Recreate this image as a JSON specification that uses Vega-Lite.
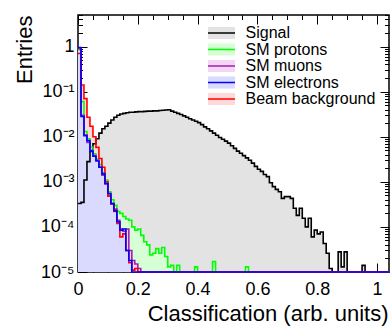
{
  "$schema": "https://vega.github.io/schema/vega-lite/v6.json",
  "width": 311,
  "height": 257,
  "autosize": {"type": "none"},
  "padding": {"left": 78, "top": 15, "right": 1, "bottom": 56},
  "background": "white",
  "data": {"values": [
    {"s":"Signal","x":0.00,"v":3.3e-4},{"s":"Signal","x":0.01,"v":3.5e-4},{"s":"Signal","x":0.02,"v":1.1e-3},{"s":"Signal","x":0.03,"v":2.8e-3},{"s":"Signal","x":0.04,"v":4.7e-3},{"s":"Signal","x":0.05,"v":7.0e-3},{"s":"Signal","x":0.06,"v":9.0e-3},{"s":"Signal","x":0.07,"v":1.2e-2},{"s":"Signal","x":0.08,"v":1.5e-2},{"s":"Signal","x":0.09,"v":1.7e-2},
    {"s":"Signal","x":0.10,"v":2.0e-2},{"s":"Signal","x":0.11,"v":2.35e-2},{"s":"Signal","x":0.12,"v":2.7e-2},{"s":"Signal","x":0.13,"v":3.0e-2},{"s":"Signal","x":0.14,"v":3.2e-2},{"s":"Signal","x":0.15,"v":3.3e-2},{"s":"Signal","x":0.16,"v":3.4e-2},{"s":"Signal","x":0.17,"v":3.5e-2},{"s":"Signal","x":0.18,"v":3.5e-2},{"s":"Signal","x":0.19,"v":3.55e-2},
    {"s":"Signal","x":0.20,"v":3.6e-2},{"s":"Signal","x":0.21,"v":3.6e-2},{"s":"Signal","x":0.22,"v":3.65e-2},{"s":"Signal","x":0.23,"v":3.7e-2},{"s":"Signal","x":0.24,"v":3.7e-2},{"s":"Signal","x":0.25,"v":3.75e-2},{"s":"Signal","x":0.26,"v":3.75e-2},{"s":"Signal","x":0.27,"v":3.8e-2},{"s":"Signal","x":0.28,"v":3.85e-2},{"s":"Signal","x":0.29,"v":3.9e-2},
    {"s":"Signal","x":0.30,"v":3.95e-2},{"s":"Signal","x":0.31,"v":3.7e-2},{"s":"Signal","x":0.32,"v":3.5e-2},{"s":"Signal","x":0.33,"v":3.3e-2},{"s":"Signal","x":0.34,"v":3.1e-2},{"s":"Signal","x":0.35,"v":2.9e-2},{"s":"Signal","x":0.36,"v":2.7e-2},{"s":"Signal","x":0.37,"v":2.5e-2},{"s":"Signal","x":0.38,"v":2.35e-2},{"s":"Signal","x":0.39,"v":2.2e-2},
    {"s":"Signal","x":0.40,"v":2.05e-2},{"s":"Signal","x":0.41,"v":1.85e-2},{"s":"Signal","x":0.42,"v":1.65e-2},{"s":"Signal","x":0.43,"v":1.5e-2},{"s":"Signal","x":0.44,"v":1.35e-2},{"s":"Signal","x":0.45,"v":1.2e-2},{"s":"Signal","x":0.46,"v":1.08e-2},{"s":"Signal","x":0.47,"v":9.6e-3},{"s":"Signal","x":0.48,"v":8.8e-3},{"s":"Signal","x":0.49,"v":8.0e-3},
    {"s":"Signal","x":0.50,"v":7.2e-3},{"s":"Signal","x":0.51,"v":6.3e-3},{"s":"Signal","x":0.52,"v":5.5e-3},{"s":"Signal","x":0.53,"v":4.8e-3},{"s":"Signal","x":0.54,"v":4.3e-3},{"s":"Signal","x":0.55,"v":3.8e-3},{"s":"Signal","x":0.56,"v":3.4e-3},{"s":"Signal","x":0.57,"v":3.0e-3},{"s":"Signal","x":0.58,"v":2.6e-3},{"s":"Signal","x":0.59,"v":2.2e-3},
    {"s":"Signal","x":0.60,"v":1.9e-3},{"s":"Signal","x":0.61,"v":1.7e-3},{"s":"Signal","x":0.62,"v":1.45e-3},{"s":"Signal","x":0.63,"v":1.3e-3},{"s":"Signal","x":0.64,"v":9.5e-4},{"s":"Signal","x":0.65,"v":7.8e-4},{"s":"Signal","x":0.66,"v":6.8e-4},{"s":"Signal","x":0.67,"v":6.0e-4},{"s":"Signal","x":0.68,"v":4.3e-4},{"s":"Signal","x":0.69,"v":4.7e-4},
    {"s":"Signal","x":0.70,"v":4.7e-4},{"s":"Signal","x":0.71,"v":4.3e-4},{"s":"Signal","x":0.72,"v":2.6e-4},{"s":"Signal","x":0.73,"v":1.8e-4},{"s":"Signal","x":0.74,"v":2.6e-4},{"s":"Signal","x":0.75,"v":1.55e-4},{"s":"Signal","x":0.76,"v":1.0e-4},{"s":"Signal","x":0.77,"v":1.55e-4},{"s":"Signal","x":0.78,"v":6e-5},{"s":"Signal","x":0.79,"v":8.5e-5},
    {"s":"Signal","x":0.80,"v":7e-5},{"s":"Signal","x":0.81,"v":7.7e-5},{"s":"Signal","x":0.82,"v":4.3e-5},{"s":"Signal","x":0.83,"v":2.6e-5},{"s":"Signal","x":0.84,"v":1.2e-5},{"s":"Signal","x":0.85,"v":1e-5},{"s":"Signal","x":0.86,"v":1e-5},{"s":"Signal","x":0.87,"v":2.8e-5},{"s":"Signal","x":0.88,"v":1.3e-5},{"s":"Signal","x":0.89,"v":2.8e-5},
    {"s":"Signal","x":0.90,"v":1e-5},{"s":"Signal","x":0.95,"v":1.4e-5},{"s":"Signal","x":0.96,"v":1e-5},{"s":"Signal","x":1.04,"v":1e-5},

    {"s":"SM protons","x":0.00,"v":0.85},{"s":"SM protons","x":0.01,"v":0.06},{"s":"SM protons","x":0.02,"v":0.013},{"s":"SM protons","x":0.03,"v":0.009},{"s":"SM protons","x":0.04,"v":0.0058},{"s":"SM protons","x":0.05,"v":0.0042},{"s":"SM protons","x":0.06,"v":0.0032},{"s":"SM protons","x":0.07,"v":0.0024},{"s":"SM protons","x":0.08,"v":0.0016},{"s":"SM protons","x":0.09,"v":0.0011},
    {"s":"SM protons","x":0.10,"v":0.0006},{"s":"SM protons","x":0.11,"v":0.0004},{"s":"SM protons","x":0.12,"v":0.0003},{"s":"SM protons","x":0.13,"v":0.00022},{"s":"SM protons","x":0.14,"v":0.0002},{"s":"SM protons","x":0.15,"v":0.00017},{"s":"SM protons","x":0.16,"v":0.00015},{"s":"SM protons","x":0.17,"v":0.00014},{"s":"SM protons","x":0.18,"v":0.0001},{"s":"SM protons","x":0.19,"v":0.000085},
    {"s":"SM protons","x":0.20,"v":0.00009},{"s":"SM protons","x":0.21,"v":0.000065},{"s":"SM protons","x":0.22,"v":0.000047},{"s":"SM protons","x":0.23,"v":0.00004},{"s":"SM protons","x":0.24,"v":0.000024},{"s":"SM protons","x":0.25,"v":0.000026},{"s":"SM protons","x":0.26,"v":0.000033},{"s":"SM protons","x":0.27,"v":0.000026},{"s":"SM protons","x":0.28,"v":0.000035},{"s":"SM protons","x":0.29,"v":0.000022},
    {"s":"SM protons","x":0.30,"v":0.000013},{"s":"SM protons","x":0.31,"v":0.000014},{"s":"SM protons","x":0.32,"v":1e-5},{"s":"SM protons","x":0.33,"v":0.000014},{"s":"SM protons","x":0.34,"v":1e-5},{"s":"SM protons","x":0.39,"v":0.000013},{"s":"SM protons","x":0.40,"v":1e-5},{"s":"SM protons","x":0.45,"v":0.000017},{"s":"SM protons","x":0.46,"v":1e-5},{"s":"SM protons","x":0.56,"v":0.000013},{"s":"SM protons","x":0.57,"v":1e-5},{"s":"SM protons","x":1.04,"v":1e-5},

    {"s":"SM muons","x":0.00,"v":0.9},{"s":"SM muons","x":0.01,"v":0.03},{"s":"SM muons","x":0.02,"v":0.011},{"s":"SM muons","x":0.03,"v":0.0075},{"s":"SM muons","x":0.04,"v":0.005},{"s":"SM muons","x":0.05,"v":0.0038},{"s":"SM muons","x":0.06,"v":0.003},{"s":"SM muons","x":0.07,"v":0.0021},{"s":"SM muons","x":0.08,"v":0.0014},{"s":"SM muons","x":0.09,"v":0.0009},
    {"s":"SM muons","x":0.10,"v":0.0005},{"s":"SM muons","x":0.11,"v":0.00032},{"s":"SM muons","x":0.12,"v":0.00025},{"s":"SM muons","x":0.13,"v":0.00014},{"s":"SM muons","x":0.14,"v":0.00009},{"s":"SM muons","x":0.15,"v":0.00008},{"s":"SM muons","x":0.16,"v":0.00009},{"s":"SM muons","x":0.17,"v":0.00003},{"s":"SM muons","x":0.18,"v":0.000018},{"s":"SM muons","x":0.19,"v":0.000015},
    {"s":"SM muons","x":0.20,"v":0.000012},{"s":"SM muons","x":0.21,"v":1e-5},{"s":"SM muons","x":1.04,"v":1e-5},

    {"s":"Beam background","x":0.00,"v":0.7},{"s":"Beam background","x":0.01,"v":0.14},{"s":"Beam background","x":0.02,"v":0.07},{"s":"Beam background","x":0.03,"v":0.027},{"s":"Beam background","x":0.04,"v":0.017},{"s":"Beam background","x":0.05,"v":0.010},{"s":"Beam background","x":0.06,"v":0.0058},{"s":"Beam background","x":0.07,"v":0.0033},{"s":"Beam background","x":0.08,"v":0.0021},{"s":"Beam background","x":0.09,"v":0.001},
    {"s":"Beam background","x":0.10,"v":0.00048},{"s":"Beam background","x":0.11,"v":0.00033},{"s":"Beam background","x":0.12,"v":0.00022},{"s":"Beam background","x":0.13,"v":0.00012},{"s":"Beam background","x":0.14,"v":0.00006},{"s":"Beam background","x":0.15,"v":0.00007},{"s":"Beam background","x":0.16,"v":0.00003},{"s":"Beam background","x":0.17,"v":0.000016},{"s":"Beam background","x":0.18,"v":0.000011},{"s":"Beam background","x":0.19,"v":0.000012},
    {"s":"Beam background","x":0.20,"v":1e-5},{"s":"Beam background","x":1.04,"v":1e-5},

    {"s":"SM electrons","x":0.00,"v":0.95},{"s":"SM electrons","x":0.01,"v":0.028},{"s":"SM electrons","x":0.02,"v":0.0105},{"s":"SM electrons","x":0.03,"v":0.0082},{"s":"SM electrons","x":0.04,"v":0.0048},{"s":"SM electrons","x":0.05,"v":0.0037},{"s":"SM electrons","x":0.06,"v":0.0029},{"s":"SM electrons","x":0.07,"v":0.0021},{"s":"SM electrons","x":0.08,"v":0.0015},{"s":"SM electrons","x":0.09,"v":0.00092},
    {"s":"SM electrons","x":0.10,"v":0.00055},{"s":"SM electrons","x":0.11,"v":0.00033},{"s":"SM electrons","x":0.12,"v":0.00023},{"s":"SM electrons","x":0.13,"v":0.00013},{"s":"SM electrons","x":0.14,"v":0.000085},{"s":"SM electrons","x":0.15,"v":0.00009},{"s":"SM electrons","x":0.16,"v":0.00003},{"s":"SM electrons","x":0.17,"v":0.000018},{"s":"SM electrons","x":0.18,"v":1e-5},{"s":"SM electrons","x":1.04,"v":1e-5}
  ]},
  "layer": [
    {
      "mark": {"type": "area", "interpolate": "step-after", "opacity": 1, "fillOpacity": 1},
      "encoding": {
        "x": {"field": "x", "type": "quantitative",
          "scale": {"domain": [0, 1.04], "nice": false, "zero": false},
          "axis": {
            "orient": "bottom",
            "values": [0,0.05,0.1,0.15,0.2,0.25,0.3,0.35,0.4,0.45,0.5,0.55,0.6,0.65,0.7,0.75,0.8,0.85,0.9,0.95,1.0],
            "labelExpr": "abs(datum.value*5 - round(datum.value*5)) < 0.01 ? '' + round(datum.value*10)/10 : ''",
            "tickSize": {"condition": {"test": "abs(datum.value*5 - round(datum.value*5)) < 0.01", "value": -9}, "value": -4.5},
            "labelPadding": 17.4,
            "labelBaseline": "top",
            "labelFlush": false,
            "labelOverlap": false,
            "title": "Classification (arb. units)",
            "titleX": 310, "titleY": 41, "titleAlign": "right", "titleBaseline": "middle", "titleAnchor": null
          }},
        "y": {"field": "v", "type": "quantitative", "stack": null,
          "scale": {"type": "log", "domain": [1e-5, 5], "nice": false},
          "axis": {
            "orient": "left",
            "values": [1e-5,2e-5,3e-5,4e-5,5e-5,6e-5,7e-5,8e-5,9e-5,1e-4,2e-4,3e-4,4e-4,5e-4,6e-4,7e-4,8e-4,9e-4,1e-3,2e-3,3e-3,4e-3,5e-3,6e-3,7e-3,8e-3,9e-3,1e-2,2e-2,3e-2,4e-2,5e-2,6e-2,7e-2,8e-2,9e-2,0.1,0.2,0.3,0.4,0.5,0.6,0.7,0.8,0.9,1,2,3,4,5],
            "labelExpr": "abs(log(datum.value)/LN10 - round(log(datum.value)/LN10)) < 0.01 ? (datum.value > 0.5 ? '1' : '10' + ['', '⁻¹', '⁻²', '⁻³', '⁻⁴', '⁻⁵'][round(-log(datum.value)/LN10)]) : ''",
            "tickSize": {"condition": {"test": "abs(log(datum.value)/LN10 - round(log(datum.value)/LN10)) < 0.01", "value": -9}, "value": -4.5},
            "labelPadding": 13,
            "labelOverlap": false,
            "labelFlush": false,
            "title": "Entries",
            "titleX": -54, "titleY": 0, "titleAngle": -90, "titleAlign": "right", "titleBaseline": "middle", "titleAnchor": null
          }},
        "y2": {"datum": 1e-5},
        "fill": {"field": "s", "type": "nominal",
          "scale": {"domain": ["Signal", "SM protons", "SM muons", "SM electrons", "Beam background"],
                    "range": ["#e3e3e3", "#d6ffd6", "#f3d6f3", "#dadaff", "#ffd9d9"]},
          "legend": {
            "orient": "none", "legendX": 130, "legendY": 10, "title": null, "padding": 0,
            "symbolType": "M-1.93,-0.86H1.93V0.86H-1.93Z", "symbolSize": 196, "symbolStrokeWidth": 1.5,
            "symbolOffset": 5.5, "labelOffset": 16, "rowPadding": 0.5, "symbolOpacity": 1,
            "labelFont": "Liberation Sans", "labelFontSize": 16, "labelColor": "transparent"
          }}
      }
    },
    {
      "mark": {"type": "line", "interpolate": "step-after", "strokeWidth": 1.6},
      "encoding": {
        "x": {"field": "x", "type": "quantitative",
          "axis": {
            "orient": "top",
            "values": [0,0.05,0.1,0.15,0.2,0.25,0.3,0.35,0.4,0.45,0.5,0.55,0.6,0.65,0.7,0.75,0.8,0.85,0.9,0.95,1.0],
            "labels": false,
            "tickSize": {"condition": {"test": "abs(datum.value*5 - round(datum.value*5)) < 0.01", "value": -9}, "value": -4.5},
            "title": null
          }},
        "y": {"field": "v", "type": "quantitative",
          "axis": {
            "orient": "right",
            "values": [1e-5,2e-5,3e-5,4e-5,5e-5,6e-5,7e-5,8e-5,9e-5,1e-4,2e-4,3e-4,4e-4,5e-4,6e-4,7e-4,8e-4,9e-4,1e-3,2e-3,3e-3,4e-3,5e-3,6e-3,7e-3,8e-3,9e-3,1e-2,2e-2,3e-2,4e-2,5e-2,6e-2,7e-2,8e-2,9e-2,0.1,0.2,0.3,0.4,0.5,0.6,0.7,0.8,0.9,1,2,3,4,5],
            "labels": false,
            "tickSize": {"condition": {"test": "abs(log(datum.value)/LN10 - round(log(datum.value)/LN10)) < 0.01", "value": -9}, "value": -4.5},
            "title": null
          }},
        "stroke": {"field": "s", "type": "nominal",
          "sort": ["Signal", "SM protons", "SM muons", "SM electrons", "Beam background"],
          "scale": {"range": ["#000000", "#00ff00", "#a020b0", "#0000ff", "#ff0000"]},
          "legend": {
            "orient": "none", "legendX": 130, "legendY": 10, "title": null, "padding": 0,
            "symbolType": "M-1.93,0H1.93", "symbolSize": 196, "symbolStrokeWidth": 1.5,
            "symbolOffset": 5.5, "labelOffset": 16, "rowPadding": 0.5,
            "labelFont": "Liberation Sans", "labelFontSize": 16, "labelColor": "black"
          }}
      }
    }
  ],
  "resolve": {"axis": {"x": "independent", "y": "independent"}},
  "config": {
    "font": "Liberation Sans",
    "view": {"stroke": "black", "strokeWidth": 1.5},
    "axis": {
      "domain": false, "grid": false,
      "labelFont": "Liberation Sans", "labelFontSize": 18, "labelColor": "black",
      "tickColor": "black", "tickWidth": 1,
      "titleFont": "Liberation Sans", "titleFontSize": 22, "titleFontWeight": "normal", "titleColor": "black"
    }
  }
}
